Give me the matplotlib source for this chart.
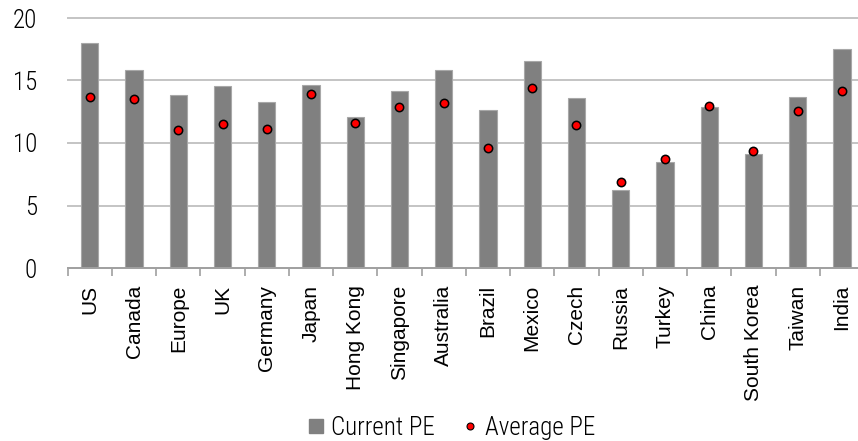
import numpy as np
import matplotlib
matplotlib.use("Agg")
import matplotlib.pyplot as plt
from matplotlib.lines import Line2D

countries = ["US", "Canada", "Europe", "UK", "Germany", "Japan", "Hong Kong",
             "Singapore", "Australia", "Brazil", "Mexico", "Czech", "Russia",
             "Turkey", "China", "South Korea", "Taiwan", "India"]
current_pe = [18.0, 15.87, 13.87, 14.59, 13.25, 14.61, 12.11, 14.13, 15.81,
              12.64, 16.53, 13.63, 6.21, 8.45, 12.91, 9.12, 13.71, 17.55]
average_pe = [13.65, 13.55, 11.07, 11.52, 11.15, 13.89, 11.57, 12.85, 13.2,
              9.6, 14.43, 11.44, 6.85, 8.72, 12.99, 9.33, 12.56, 14.19]
y_ticks = [0, 5, 10, 15, 20]

narrow = ["Liberation Sans Narrow", "Roboto Condensed", "DejaVu Sans"]
regular = ["Liberation Sans", "DejaVu Sans"]

fig = plt.figure(figsize=(8.58, 4.41), dpi=100)
ax = fig.add_axes([67.7 / 858, 1 - 268 / 441, (864 - 67.7) / 858, 250 / 441])

x = np.arange(len(countries))
ax.bar(x, current_pe, width=0.39, color="#808080", edgecolor="#a8a8a8",
       linewidth=0.8, zorder=2)
ax.plot(x, average_pe, linestyle="none", marker="o", markersize=6,
        markerfacecolor="#ff0000", markeredgecolor="#000000",
        markeredgewidth=1.1, zorder=3)

ax.set_xlim(-0.5, len(countries) - 0.5)
ax.set_ylim(0, 20)

# y axis: gridlines only, no spine or tick marks
ax.set_yticks(y_ticks)
ax.set_yticklabels([str(v) for v in y_ticks], family=narrow, fontsize=18,
                   fontweight="light", color="#000000")
ax.tick_params(axis="y", length=0, pad=22)
ax.yaxis.grid(True, color="#c4c4c4", linewidth=1.4, zorder=0)
ax.set_axisbelow(True)
for gl in ax.get_ygridlines():
    gl.set_clip_on(False)

# x axis: boundary ticks, labels centred on the categories
ax.set_xticks(np.arange(-0.5, len(countries), 1.0))
ax.set_xticklabels([])
ax.tick_params(axis="x", which="major", length=6, width=1.2, color="#a0a0a0",
               direction="out")
ax.set_xticks(x, minor=True)
ax.set_xticklabels(countries, minor=True, rotation=90, family=regular,
                   fontsize=15, va="top", ha="center")
ax.tick_params(axis="x", which="minor", length=0, pad=12)

for side in ("top", "right", "left"):
    ax.spines[side].set_visible(False)
ax.spines["bottom"].set_color("#a0a0a0")
ax.spines["bottom"].set_linewidth(1.4)

handles = [
    Line2D([], [], linestyle="none", marker="s", markersize=10,
           markerfacecolor="#808080", markeredgecolor="#808080"),
    Line2D([], [], linestyle="none", marker="o", markersize=5,
           markerfacecolor="#ff0000", markeredgecolor="#000000",
           markeredgewidth=0.8),
]
fig.legend(handles, ["Current PE", "Average PE"], loc="center",
           bbox_to_anchor=(452 / 858, 1 - 428 / 441), ncol=2, frameon=False,
           prop={"family": narrow, "size": 18, "weight": "light"},
           handlelength=0.6, handletextpad=0.3, columnspacing=1.1,
           borderaxespad=0)

fig.savefig("out.png", dpi=100)
